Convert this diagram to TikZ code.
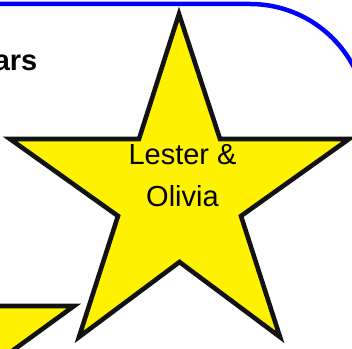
\documentclass[tikz,border=0pt]{standalone}
\usepackage{fontspec}
\setmainfont{Liberation Sans}
\begin{document}
\begin{tikzpicture}[x=1pt,y=1pt,
  starshape/.style={draw=black!93,line width=4.6pt,fill=yellow,line join=miter},
  frame/.style={draw=blue,line width=4.5pt},
  startext/.style={font=\fontsize{29}{42}\selectfont,align=center,inner sep=0pt},
  titletext/.style={font=\fontsize{29}{34}\selectfont\bfseries,inner sep=0pt}]
\useasboundingbox (0,0) rectangle (352,348);
\clip (0,0) rectangle (352,348);
% blue rounded frame
\draw[frame] (-20,344) -- (250,344) arc[start angle=90,end angle=0,radius=117];
% partial title
\node[titletext,anchor=base east] (title) at (37.5,277) {ars};
% partial second star (bottom-left)
\coordinate (p1) at (-20,42);
\coordinate (p2) at (74,42);
\coordinate (p3) at (-20,-26.3);
\draw[starshape] (p1) -- (p2) -- (p3) -- cycle;
% main star
\coordinate (T) at (179,334);
\coordinate (IUR) at (220,209);
\coordinate (RT) at (349,209);
\coordinate (ILR) at (241,132);
\coordinate (BR) at (280,11);
\coordinate (IB) at (179.5,86);
\coordinate (BL) at (79,11);
\coordinate (ILL) at (118,132);
\coordinate (LT) at (10,209);
\coordinate (IUL) at (139,209);
\draw[starshape] (T) -- (IUR) -- (RT) -- (ILR) -- (BR) -- (IB) -- (BL) -- (ILL) -- (LT) -- (IUL) -- cycle;
\node[startext] (names) at (182.5,172.5) {Lester \&\\Olivia};
\end{tikzpicture}
\end{document}
